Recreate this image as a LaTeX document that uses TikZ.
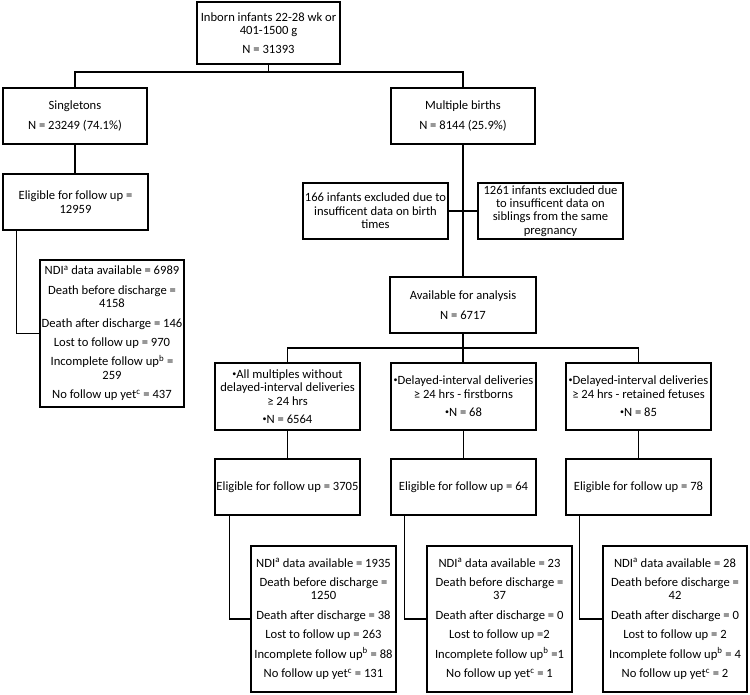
\documentclass[tikz,border=0pt]{standalone}
\usepackage{fontspec}
\setmainfont{Carlito}
\newcommand{\bul}{\raisebox{2.2pt}{\fontsize{8}{8}\selectfont•}}
\begin{document}
\begin{tikzpicture}[x=1pt,y=-1pt,
  bx/.style={draw, line width=1.4pt, align=center, inner sep=1pt,
    font=\fontsize{12.6}{13.4}\selectfont},
  ln/.style={line width=1.4pt}]
\useasboundingbox (0,0) rectangle (750,695);
\fill[white] (0,0) rectangle (750,695);
% top
\node[bx, minimum width=143pt, minimum height=62pt] (top) at (268.5,33)
  {Inborn infants 22-28 wk or\\401-1500 g\\[5pt]N = 31393};
\node[bx, minimum width=144pt, minimum height=56pt] (sing) at (75,116)
  {Singletons\\[7pt]N = 23249 (74.1\%)};
\node[bx, minimum width=144pt, minimum height=56pt] (mult) at (463,116)
  {Multiple births\\[7pt]N = 8144 (25.9\%)};
\node[bx, minimum width=145pt, minimum height=56pt] (elig0) at (75.5,202)
  {Eligible for follow up =\\12959};
\node[bx, minimum width=144pt, minimum height=147pt] (ndi0) at (112,333.5)
  {NDI\textsuperscript{a} data available = 6989\\[6pt]Death before discharge =\\4158\\[6pt]Death after discharge = 146\\[6pt]Lost to follow up = 970\\[6pt]Incomplete follow up\textsuperscript{b} =\\259\\[6pt]No follow up yet\textsuperscript{c} = 437};
\node[bx, minimum width=145pt, minimum height=56pt] (ex1) at (375.5,211)
  {166 infants excluded due to\\insufficent data on birth\\times};
\node[bx, minimum width=145pt, minimum height=56pt] (ex2) at (550.5,211)
  {1261 infants excluded due\\to insufficent data on\\siblings from the same\\pregnancy};
\node[bx, minimum width=146pt, minimum height=56pt] (avail) at (463,305)
  {Available for analysis\\[7pt]N = 6717};
% row of groups
\node[bx, minimum width=145pt, minimum height=67pt] (r1) at (287.5,396.5)
  {\bul All multiples without\\delayed-interval deliveries\\≥ 24 hrs\\[5pt]\bul N = 6564};
\node[bx, minimum width=145pt, minimum height=67pt] (r2) at (463.5,396.5)
  {\bul Delayed-interval deliveries\\≥ 24 hrs - firstborns\\[5pt]\bul N = 68};
\node[bx, minimum width=145pt, minimum height=67pt] (r3) at (638.5,396.5)
  {\bul Delayed-interval deliveries\\≥ 24 hrs - retained fetuses\\[5pt]\bul N = 85};
% eligible row
\node[bx, minimum width=145pt, minimum height=56pt] (e1) at (287.5,487)
  {Eligible for follow up = 3705};
\node[bx, minimum width=145pt, minimum height=56pt] (e2) at (463.5,487)
  {Eligible for follow up = 64};
\node[bx, minimum width=145pt, minimum height=56pt] (e3) at (638.5,487)
  {Eligible for follow up = 78};
% NDI row
\node[bx, minimum width=145pt, minimum height=146pt] (n1) at (323.5,619)
  {NDI\textsuperscript{a} data available = 1935\\[6pt]Death before discharge =\\1250\\[6pt]Death after discharge = 38\\[6pt]Lost to follow up = 263\\[6pt]Incomplete follow up\textsuperscript{b} = 88\\[6pt]No follow up yet\textsuperscript{c} = 131};
\node[bx, minimum width=145pt, minimum height=146pt] (n2) at (499.5,619)
  {NDI\textsuperscript{a} data available = 23\\[6pt]Death before discharge =\\37\\[6pt]Death after discharge = 0\\[6pt]Lost to follow up =2\\[6pt]Incomplete follow up\textsuperscript{b} =1\\[6pt]No follow up yet\textsuperscript{c} = 1};
\node[bx, minimum width=144pt, minimum height=146pt] (n3) at (675,619)
  {NDI\textsuperscript{a} data available = 28\\[6pt]Death before discharge =\\42\\[6pt]Death after discharge = 0\\[6pt]Lost to follow up = 2\\[6pt]Incomplete follow up\textsuperscript{b} = 4\\[6pt]No follow up yet\textsuperscript{c} = 2};
% connectors
\coordinate (b1) at (268.5,72);
\coordinate (b2) at (463,348);
\draw[ln] (top.south) -- (b1);
\draw[ln] (sing.north) |- (b1) -| (mult.north);
\draw[ln] (sing.south) -- (sing.south |- elig0.north);
\draw[ln] ([xshift=14pt]elig0.south west) |- (ndi0.west);
\draw[ln] (mult.south) -- (avail.north);
\draw[ln] (ex1.east) -- (ex2.west);
\draw[ln] (avail.south) -- (avail.south |- r2.north);
\draw[ln] (r1.north) |- (b2) -| (r3.north);
\draw[ln] (r1.south) -- (e1.north);
\draw[ln] (r2.south) -- (e2.north);
\draw[ln] (r3.south) -- (e3.north);
\draw[ln] ([xshift=15pt]e1.south west) |- (n1.west);
\draw[ln] ([xshift=14pt]e2.south west) |- (n2.west);
\draw[ln] ([xshift=14pt]e3.south west) |- (n3.west);
\end{tikzpicture}
\end{document}
